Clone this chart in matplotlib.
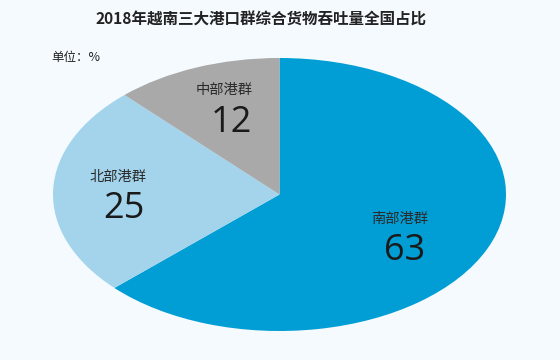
import matplotlib
matplotlib.use("Agg")
import matplotlib.pyplot as plt

plt.rcParams['font.family'] = ['Noto Sans CJK SC', 'DejaVu Sans']

categories = ["南部港群", "北部港群", "中部港群"]
values = [63, 25, 12]
colors = ["#009ed5", "#a3d4ec", "#a9a9a9"]
title = "2018年越南三大港口群综合货物吞吐量全国占比"
unit = "单位：%"

W, H = 560, 360
fig = plt.figure(figsize=(W / 100, H / 100), dpi=100)
bg = "#f4fafd"
fig.patch.set_facecolor(bg)

# ellipse spans x 53..506, y 58..331 (pixels from top)
ax = fig.add_axes([53 / W, (H - 331) / H, 453 / W, 273 / H])
ax.set_facecolor(bg)
wedges, _ = ax.pie(values, colors=colors, startangle=90, counterclock=False,
                   radius=1, wedgeprops=dict(linewidth=0))
ax.set_aspect('auto')
ax.set_xlim(-1, 1)
ax.set_ylim(-1, 1)
ax.axis('off')

# label positions (figure pixels, from top)
label_pos = [(400, 219, 405, 251), (118, 177, 124, 209), (224, 90, 231, 123)]
for cat, val, (lx, ly, nx, ny) in zip(categories, values, label_pos):
    fig.text(lx / W, 1 - ly / H, cat, ha='center', va='center', fontsize=10.3, color="#2a2a2a")
    fig.text(nx / W, 1 - ny / H, str(val), ha='center', va='center', fontsize=26,
             color="#1a1a1a", family=['Open Sans', 'DejaVu Sans'])

fig.text(261 / W, 1 - 20 / H, title, ha='center', va='center', fontsize=11.2,
         fontweight='bold', color="#222222")
fig.text(51 / W, 1 - 57 / H, unit, ha='left', va='center', fontsize=9, color="#222222")

fig.savefig("out.png", dpi=100, facecolor=bg)
